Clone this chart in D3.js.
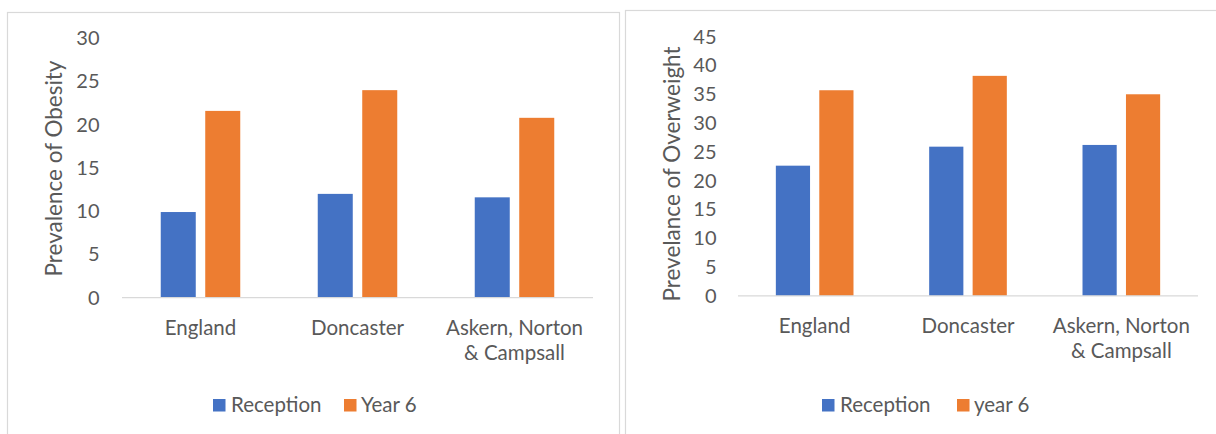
<!DOCTYPE html>
<html>
<head>
<meta charset="utf-8">
<script src="https://cdn.jsdelivr.net/npm/d3@7"></script>
<style>
  html, body { margin: 0; padding: 0; background: #ffffff; }
  svg { display: block; }
  text { font-family: Lato, "Open Sans", sans-serif; fill: #595959; }
</style>
</head>
<body>
<svg id="chart" width="1216" height="434"></svg>
<script>
// ---- data ----
const categories = ["England", "Doncaster", "Askern, Norton & Campsall"];
const obesitySeries = ["Reception", "Year 6"];
const obesityReception = [9.9, 12.0, 11.6];
const obesityYear6 = [21.6, 24.0, 20.8];
const obesityTicks = [0, 5, 10, 15, 20, 25, 30];
const obesityTitle = "Prevalence of Obesity";

const overweightSeries = ["Reception", "year 6"];
const overweightReception = [22.6, 25.9, 26.2];
const overweightYear6 = [35.7, 38.2, 35.0];
const overweightTicks = [0, 5, 10, 15, 20, 25, 30, 35, 40, 45];
const overweightTitle = "Prevelance of Overweight";

const colors = ["#4472C4", "#ED7D31"];

// ---- drawing ----
const svg = d3.select("#chart");
const FS = 20.5;
const TFS = 22.5;

function wrapLines(label) {
  const i = label.indexOf(" & ");
  return i >= 0 ? [label.slice(0, i), label.slice(i + 1)] : [label];
}

function drawChart(cfg) {
  const g = svg.append("g");
  // frame
  g.append("rect")
    .attr("x", cfg.frame[0]).attr("y", cfg.frame[1])
    .attr("width", cfg.frame[2]).attr("height", cfg.frame[3])
    .attr("fill", "none").attr("stroke", "#D9D9D9").attr("stroke-width", 1.2);

  const x0 = d3.scaleBand().domain(categories)
    .range([cfg.x0, cfg.x1]).paddingInner(0.4936).paddingOuter(0.2468);
  const x1 = d3.scaleBand().domain(cfg.series)
    .range([0, x0.bandwidth()]).paddingInner(0.213);
  const y = d3.scaleLinear().domain([0, d3.max(cfg.ticks)])
    .range([cfg.yBase, cfg.yTop]);

  // y axis
  const yAxis = d3.axisLeft(y).tickValues(cfg.ticks).tickSize(0)
    .tickPadding(cfg.x0 - cfg.tickRight);
  const ya = g.append("g").attr("transform", `translate(${cfg.x0},0)`).call(yAxis);
  ya.select(".domain").remove();
  ya.selectAll("text").style("font-family", "Lato, sans-serif")
    .style("font-size", "20px").attr("fill", "#595959");

  // bars
  const rows = categories.map((c, i) => ({ cat: c, vals: cfg.values.map(v => v[i]) }));
  const grp = g.selectAll(".grp").data(rows).join("g")
    .attr("transform", d => `translate(${x0(d.cat)},0)`);
  grp.selectAll("rect").data(d => d.vals.map((v, k) => ({ s: cfg.series[k], v, k })))
    .join("rect")
    .attr("x", d => x1(d.s))
    .attr("width", x1.bandwidth())
    .attr("y", d => y(d.v))
    .attr("height", d => y(0) - y(d.v))
    .attr("fill", d => colors[d.k]);

  // baseline
  g.append("line")
    .attr("x1", cfg.x0).attr("x2", cfg.x1)
    .attr("y1", y(0)).attr("y2", y(0))
    .attr("stroke", "#D9D9D9").attr("stroke-width", 1.3);

  // category labels
  categories.forEach(c => {
    const t = g.append("text")
      .attr("text-anchor", "middle")
      .attr("font-size", FS)
      .attr("x", x0(c) + x0.bandwidth() / 2)
      .attr("y", cfg.labelBase);
    wrapLines(c).forEach((ln, i) => {
      t.append("tspan").attr("x", x0(c) + x0.bandwidth() / 2)
        .attr("dy", i === 0 ? 0 : 25).text(ln);
    });
  });

  // axis title
  g.append("text")
    .attr("transform", `translate(${cfg.titleX},${cfg.titleY}) rotate(-90)`)
    .attr("text-anchor", "middle")
    .attr("font-size", TFS)
    .text(cfg.title);

  // legend
  cfg.series.forEach((s, k) => {
    g.append("rect")
      .attr("x", cfg.legend[k][0]).attr("y", 399)
      .attr("width", 12.5).attr("height", 12.5)
      .attr("fill", colors[k]);
    g.append("text")
      .attr("x", cfg.legend[k][1]).attr("y", 411.5)
      .attr("font-size", FS)
      .text(s);
  });
}

drawChart({
  frame: [7.5, 12.5, 612, 440],
  x0: 122, x1: 593, yBase: 297.6, yTop: 38.3,
  tickRight: 99.5,
  series: obesitySeries,
  values: [obesityReception, obesityYear6],
  ticks: obesityTicks,
  title: obesityTitle,
  titleX: 62, titleY: 168.5,
  labelBase: 335,
  legend: [[213, 231], [344, 361]]
});

drawChart({
  frame: [625.5, 10.5, 620, 440],
  x0: 738, x1: 1198, yBase: 295.8, yTop: 36.7,
  tickRight: 716.5,
  series: overweightSeries,
  values: [overweightReception, overweightYear6],
  ticks: overweightTicks,
  title: overweightTitle,
  titleX: 680, titleY: 174,
  labelBase: 332.7,
  legend: [[822, 840], [957, 974]]
});
</script>
</body>
</html>
